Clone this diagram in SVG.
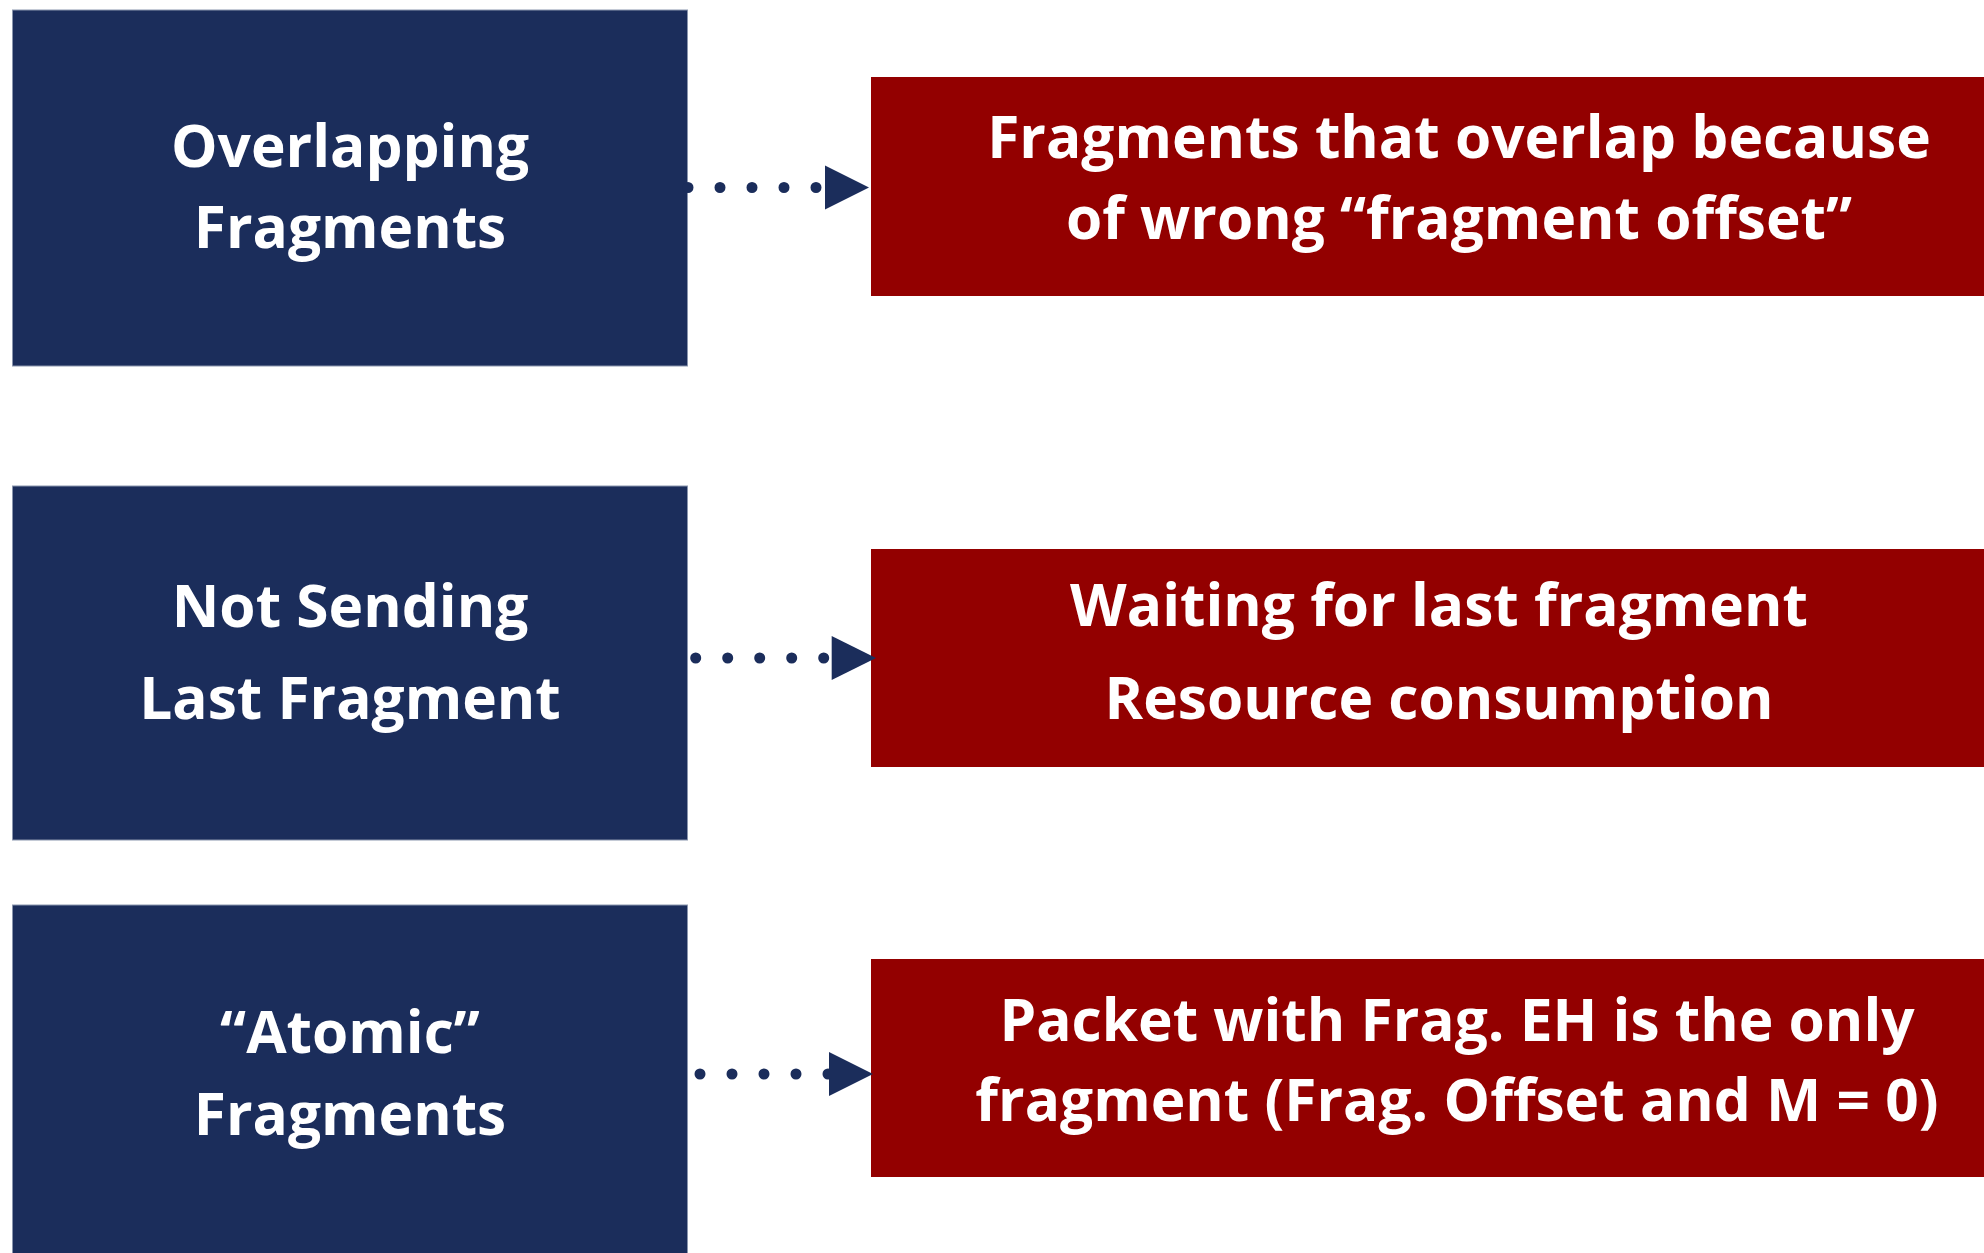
<svg xmlns="http://www.w3.org/2000/svg" width="1984" height="1253" viewBox="0 0 1984 1253">
<style>
.blue{fill:#1b2d5b;stroke:#8a95ad;stroke-width:1}
.red{fill:#930000}
.t{font-family:"Open Sans","Noto Sans","Liberation Sans",sans-serif;font-weight:bold;font-size:58.6px;fill:#ffffff;text-anchor:middle}
.dots{stroke:#1b2d5b;stroke-width:11;stroke-linecap:round;stroke-dasharray:0 32;fill:none}
.head{fill:#1b2d5b}
</style>
<rect width="1984" height="1253" fill="#ffffff"/>
<g id="node-overlapping">
<rect class="blue" x="12.5" y="10" width="675" height="356"/>
<text class="t" x="350" y="167">Overlapping</text>
<text class="t" x="350" y="248">Fragments</text>
</g>
<g id="node-not-sending">
<rect class="blue" x="12.5" y="486" width="675" height="354"/>
<text class="t" x="350" y="627">Not Sending</text>
<text class="t" x="350" y="719">Last Fragment</text>
</g>
<g id="node-atomic">
<rect class="blue" x="12.5" y="905" width="675" height="360"/>
<text class="t" x="350" y="1053">“Atomic”</text>
<text class="t" x="350" y="1135">Fragments</text>
</g>
<g id="node-overlap-desc">
<rect class="red" x="871" y="77" width="1120" height="219"/>
<text class="t" x="1459" y="158">Fragments that overlap because</text>
<text class="t" x="1459" y="239">of wrong “fragment offset”</text>
</g>
<g id="node-waiting-desc">
<rect class="red" x="871" y="549" width="1120" height="218"/>
<text class="t" x="1439" y="626">Waiting for last fragment</text>
<text class="t" x="1439" y="719">Resource consumption</text>
</g>
<g id="node-packet-desc">
<rect class="red" x="871" y="959" width="1120" height="218"/>
<text class="t" x="1457" y="1041">Packet with Frag. EH is the only</text>
<text class="t" x="1457" y="1121">fragment (Frag. Offset and M = 0)</text>
</g>
<g id="connectors">
<path class="dots" d="M688 187.5 H820"/>
<polygon class="head" points="825,165.5 869,187.5 825,209.5"/>
<path class="dots" d="M695.7 658 H826"/>
<polygon class="head" points="831.7,636 876,658 831.7,680"/>
<path class="dots" d="M700 1074 H830"/>
<polygon class="head" points="829,1052 873,1074 829,1096"/>
</g>
</svg>
